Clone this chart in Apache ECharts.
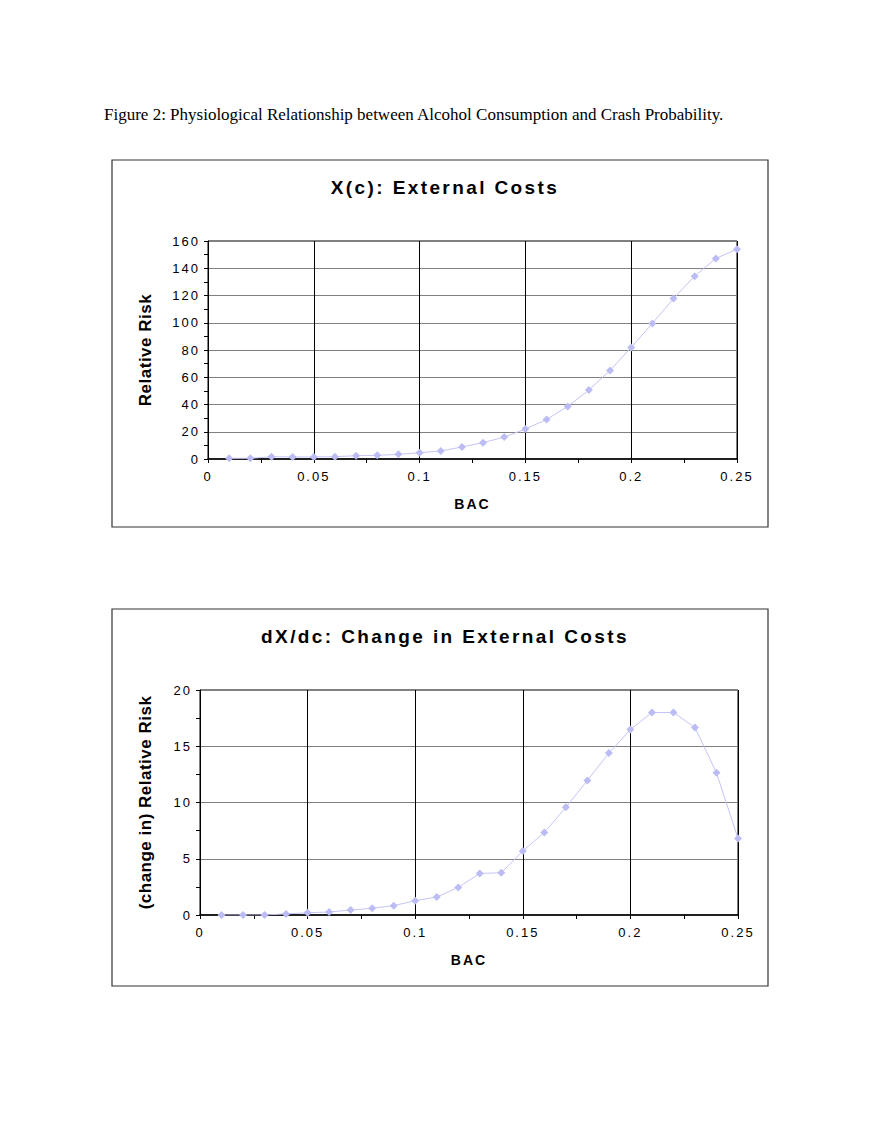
<!DOCTYPE html>
<html>
<head>
<meta charset="utf-8">
<script src="https://cdn.jsdelivr.net/npm/echarts@6/dist/echarts.min.js"></script>
<style>
  body { margin: 0; background: #fff; }
  #page { position: relative; width: 880px; height: 1139px; }
  #caption {
    position: absolute; left: 104px; top: 105px;
    font-family: "Liberation Serif", "Times New Roman", serif; font-size: 17px; color: #000;
    white-space: nowrap;
  }
  #chart { position: absolute; left: 0; top: 0; width: 880px; height: 1139px; }
  #chart text { letter-spacing: 2px; }
  #chart text[style*="19px"] { letter-spacing: 2.4px; }
  #chart text[style*="17px"] { letter-spacing: 0.5px; }
</style>
</head>
<body>
<div id="page">
  <div id="chart"></div>
  <div id="caption">Figure 2: Physiological Relationship between Alcohol Consumption and Crash Probability.</div>
</div>
<script>
// BAC levels (x axis)
const bac = [0.01, 0.02, 0.03, 0.04, 0.05, 0.06, 0.07, 0.08, 0.09, 0.10,
  0.11, 0.12, 0.13, 0.14, 0.15, 0.16, 0.17, 0.18, 0.19, 0.20,
  0.21, 0.22, 0.23, 0.24, 0.25];
// X(c): relative risk
const relativeRisk = [0.5, 0.5, 1.7, 1.5, 1.5, 1.7, 2.4, 2.7, 3.4, 4.6,
  5.9, 8.8, 12, 16.1, 22, 29, 38.6, 50.6, 65, 81.9,
  99.5, 117.8, 134.2, 147.2, 154];
// dX/dc: change in relative risk
const changeRisk = [0, 0, 0, 0.1, 0.2, 0.27, 0.44, 0.6, 0.83, 1.27,
  1.6, 2.45, 3.7, 3.75, 5.7, 7.33, 9.57, 11.96, 14.39, 16.48,
  18.0, 18.0, 16.66, 12.64, 6.8];

const titles = ['X(c): External Costs', 'dX/dc: Change in External Costs'];
const yNames = ['Relative Risk', '(change in) Relative Risk'];

const FONT = '"Liberation Sans", Arial, sans-serif';
const markColor = '#bcbcf4';

function xAxisFor(gridIndex) {
  return {
    type: 'value', gridIndex: gridIndex, min: 0, max: 0.25, interval: 0.05,
    name: 'BAC', nameLocation: 'middle', nameGap: 38,
    nameTextStyle: { fontFamily: FONT, fontSize: 14, fontWeight: 'bold', color: '#000' },
    axisLine: { lineStyle: { color: '#000', width: 1.5 } },
    axisTick: { show: true, length: 4, lineStyle: { color: '#000' } },
    minorTick: { show: true, splitNumber: 2, length: 4, lineStyle: { color: '#000' } },
    axisLabel: { fontFamily: FONT, fontSize: 13, color: '#000', margin: 11 },
    splitLine: { show: true, lineStyle: { color: '#000', width: 1 } },
  };
}

function yAxisFor(gridIndex, max, interval, gap) {
  return {
    type: 'value', gridIndex: gridIndex, min: 0, max: max, interval: interval,
    name: yNames[gridIndex], nameLocation: 'middle', nameGap: gap, nameRotate: 90,
    nameTextStyle: { fontFamily: FONT, fontSize: 17, fontWeight: 'bold', color: '#000' },
    axisLine: { show: true, lineStyle: { color: '#000', width: 1 } },
    axisTick: { show: true, length: 4, lineStyle: { color: '#000' } },
    minorTick: { show: true, splitNumber: 2, length: 4, lineStyle: { color: '#000' } },
    axisLabel: { fontFamily: FONT, fontSize: 13, color: '#000', margin: 8 },
    splitLine: { show: true, lineStyle: { color: '#808080', width: 1 } },
  };
}

function seriesFor(idx, values) {
  return {
    type: 'line', xAxisIndex: idx, yAxisIndex: idx,
    data: bac.map((b, i) => [b, values[i]]),
    symbol: 'diamond', symbolSize: 8,
    itemStyle: { color: markColor },
    lineStyle: { color: '#c4c4f6', width: 1 },
    animation: false,
  };
}

const chart = echarts.init(document.getElementById('chart'), null, { renderer: 'svg' });
chart.setOption({
  animation: false,
  title: [
    { text: titles[0], left: 440, top: 173, textAlign: 'center',
      textStyle: { fontFamily: FONT, fontSize: 19, fontWeight: 'bold', color: '#000' } },
    { text: titles[1], left: 440, top: 622, textAlign: 'center',
      textStyle: { fontFamily: FONT, fontSize: 19, fontWeight: 'bold', color: '#000' } },
  ],
  graphic: [
    { type: 'rect', shape: { x: 112, y: 160, width: 656, height: 367 },
      style: { fill: 'none', stroke: '#333', lineWidth: 1.2 }, z: -1 },
    { type: 'rect', shape: { x: 112, y: 609, width: 656, height: 377 },
      style: { fill: 'none', stroke: '#333', lineWidth: 1.2 }, z: -1 },
  ],
  grid: [
    { left: 208, top: 241, width: 529, height: 218, show: true, borderColor: '#000', borderWidth: 1 },
    { left: 200, top: 690, width: 538, height: 225, show: true, borderColor: '#000', borderWidth: 1 },
  ],
  xAxis: [xAxisFor(0), xAxisFor(1)],
  yAxis: [yAxisFor(0, 160, 20, 54), yAxisFor(1, 20, 5, 46)],
  series: [seriesFor(0, relativeRisk), seriesFor(1, changeRisk)],
});
</script>
</body>
</html>
